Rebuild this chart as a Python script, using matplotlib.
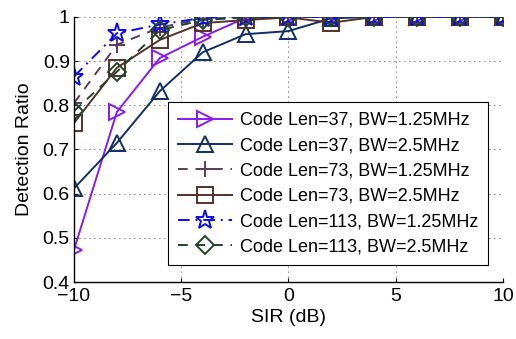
import matplotlib
matplotlib.use("Agg")
import matplotlib.pyplot as plt

plt.rcParams['font.family'] = ['Liberation Sans', 'DejaVu Sans']

sir = [-10, -8, -6, -4, -2, 0, 2, 4, 6, 8, 10]
len37_bw125 = [0.473, 0.785, 0.907, 0.955, 0.998, 1.0, 1.0, 1.0, 1.0, 1.0, 1.0]
len37_bw25 = [0.612, 0.715, 0.832, 0.92, 0.961, 0.968, 0.997, 1.0, 1.0, 1.0, 1.0]
len73_bw125 = [0.805, 0.937, 0.976, 0.996, 0.999, 1.0, 1.0, 1.0, 1.0, 1.0, 1.0]
len73_bw25 = [0.76, 0.885, 0.948, 0.986, 0.993, 0.999, 0.987, 1.0, 1.0, 1.0, 1.0]
len113_bw125 = [0.865, 0.963, 0.983, 0.998, 1.0, 1.0, 1.0, 1.0, 1.0, 1.0, 1.0]
len113_bw25 = [0.787, 0.876, 0.97, 0.993, 0.999, 1.0, 1.0, 1.0, 1.0, 1.0, 1.0]

labels = ["Code Len=37, BW=1.25MHz", "Code Len=37, BW=2.5MHz",
          "Code Len=73, BW=1.25MHz", "Code Len=73, BW=2.5MHz",
          "Code Len=113, BW=1.25MHz", "Code Len=113, BW=2.5MHz"]

fs = 14
lfs = 13

fig = plt.figure(figsize=(5.16, 3.39), dpi=100)
ax = fig.add_axes([0.1434, 0.168, 0.8314, 0.782])

lw = 1.4
ms = 11
ax.plot(sir, len37_bw125, color='#8A1AF0', ls='-', lw=lw, marker='>', ms=ms,
        mfc='none', mew=lw, label=labels[0])
ax.plot(sir, len37_bw25, color='#0E2F6B', ls='-', lw=lw, marker='^', ms=ms,
        mfc='none', mew=lw, label=labels[1])
ax.plot(sir, len73_bw125, color='#5E3A5C', ls=(0, (5, 4)), lw=lw, marker='+', ms=ms,
        mfc='none', mew=lw, label=labels[2])
ax.plot(sir, len73_bw25, color='#563128', ls='-', lw=lw, marker='s', ms=ms,
        mfc='none', mew=lw, label=labels[3])
ax.plot(sir, len113_bw125, color='#0A0AF5', ls=(0, (6, 3, 1, 3)), lw=lw, marker='*', ms=ms + 3,
        mfc='none', mew=lw, label=labels[4])
ax.plot(sir, len113_bw25, color='#1E4528', ls=(0, (5, 4)), lw=lw, marker='D', ms=ms - 2,
        mfc='none', mew=lw, label=labels[5])

ax.set_xlim(-10, 10)
ax.set_ylim(0.4, 1.0)
ax.set_xticks([-10, -5, 0, 5, 10])
ax.set_xticklabels(['\u221210', '\u22125', '0', '5', '10'])
ax.set_yticks([0.4, 0.5, 0.6, 0.7, 0.8, 0.9, 1.0])
ax.set_yticklabels(['0.4', '0.5', '0.6', '0.7', '0.8', '0.9', '1'])
ax.tick_params(direction='in', labelsize=fs, length=3, width=0.8)
ax.tick_params(axis='x', pad=4)
ax.tick_params(axis='y', pad=3)
ax.grid(True, color='black', ls=(0, (1, 5)), lw=0.6)
ax.spines['top'].set_visible(False)
ax.spines['right'].set_visible(False)
ax.spines['left'].set_linewidth(1.0)
ax.spines['bottom'].set_linewidth(1.0)
ax.set_xlabel('SIR (dB)', fontsize=fs, labelpad=3)
ax.set_ylabel('Detection Ratio', fontsize=fs, labelpad=7)

leg = ax.legend(loc='upper left', bbox_to_anchor=(0.219, 0.679), fontsize=lfs,
                handlelength=3.0, labelspacing=0.46, borderpad=0.55,
                handletextpad=0.45, fancybox=False, framealpha=1,
                edgecolor='black', borderaxespad=0)
leg.get_frame().set_linewidth(0.8)

fig.savefig('out.png', dpi=100)
